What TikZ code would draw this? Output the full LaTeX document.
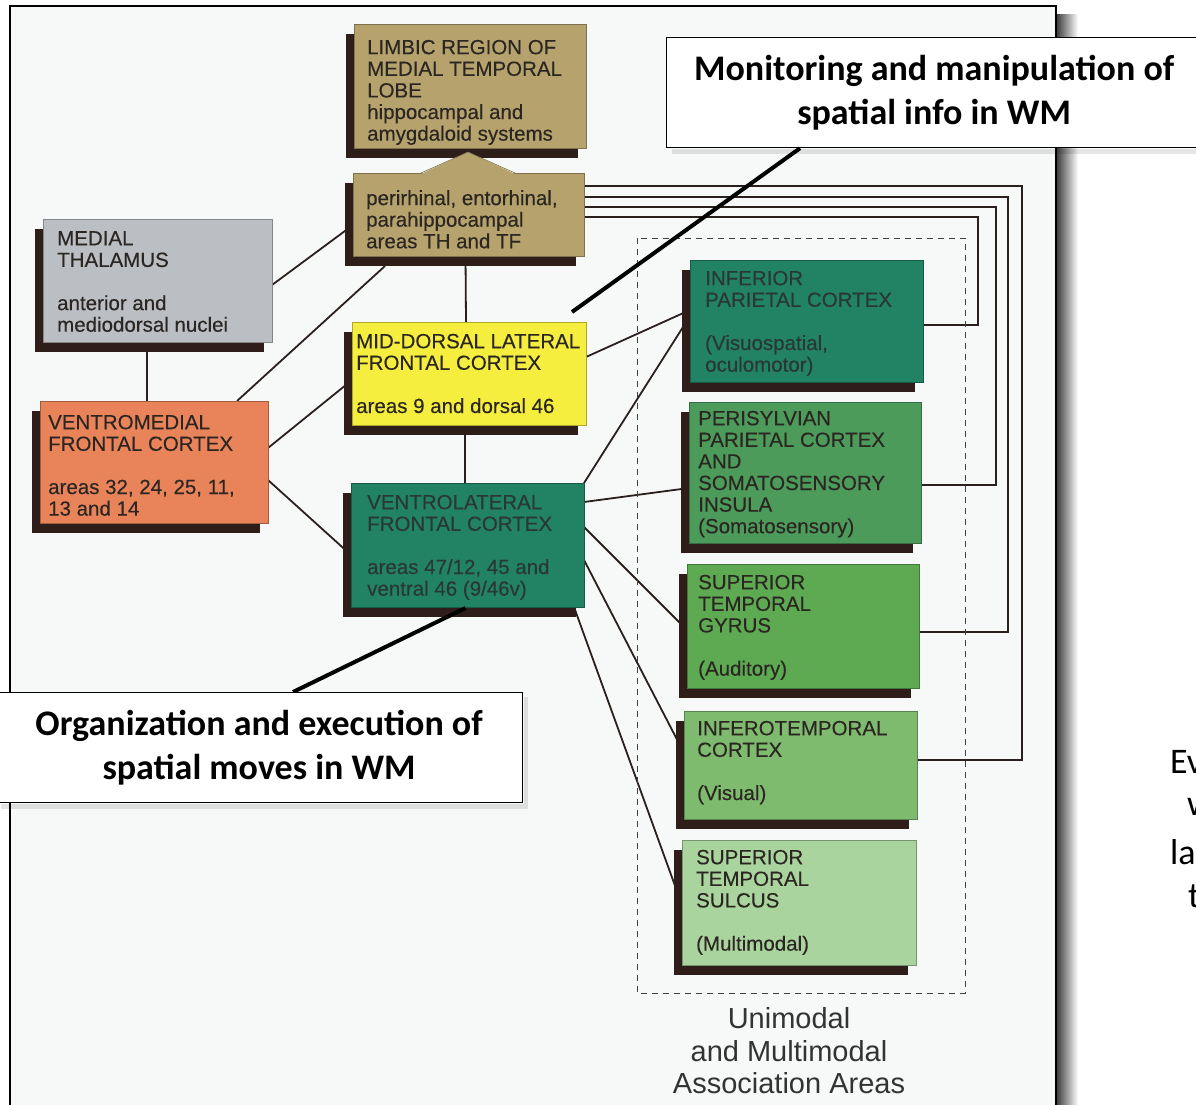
\documentclass[tikz,border=0pt]{standalone}
\usepackage{fontspec}
\setmainfont{Liberation Sans}
\newfontfamily\boxfont{Liberation Sans}[FakeBold=0.25]
\newfontfamily\calfont{Carlito}
\usetikzlibrary{calc}
\pgfdeclarelayer{bg}
\pgfdeclarelayer{lines}
\pgfsetlayers{bg,lines,main}
\definecolor{shadowc}{HTML}{2E1D18}
\definecolor{tanc}{HTML}{B5A26C}
\definecolor{grayc}{HTML}{BBBEC3}
\definecolor{yelc}{HTML}{F6EE3E}
\definecolor{orac}{HTML}{E9845A}
\definecolor{tealc}{HTML}{218264}
\definecolor{grnA}{HTML}{4C9B5B}
\definecolor{grnB}{HTML}{5DAA53}
\definecolor{grnC}{HTML}{7FBB6E}
\definecolor{grnD}{HTML}{AAD49D}
\definecolor{linec}{HTML}{2A201D}
\definecolor{panelc}{HTML}{F7F9F8}
\definecolor{txtc}{HTML}{2B2622}
\definecolor{tealtxt}{HTML}{2A3833}
\newcommand\myareabox[6]{%
  \fill[shadowc] ({#3-8},{#4+10}) rectangle ({#3+#5-8},{#4+#6+10});
  \node[areabox, fill=#2, draw=#2!70!black, minimum width=#5pt, minimum height=#6pt] (#1) at (#3,#4) {};
}
\begin{document}
\begin{tikzpicture}[x=1pt,y=-1pt,
  areabox/.style={rectangle, anchor=north west, inner sep=0pt, outer sep=0pt, line width=0.6pt},
  boxtxt/.style={anchor=north west, inner sep=0pt, align=left, text=txtc, font=\boxfont\fontsize{20.5}{21.6}\selectfont},
  conn/.style={draw=linec, line width=1.8pt},
  dashbox/.style={draw=black!75, line width=0.9pt, dash pattern=on 6pt off 5pt},
  pointer/.style={draw=black, line width=4pt},
  callout/.style={rectangle, draw=black, line width=1.2pt, fill=white, anchor=north west, inner sep=0pt, align=center, font=\calfont\bfseries\fontsize{36}{44}\selectfont},
  assoc/.style={anchor=north, inner sep=0pt, align=center, text=black!80, font=\fontsize{29}{32.5}\selectfont},
  edgetxt/.style={anchor=west, inner sep=0pt, font=\calfont\fontsize{36}{44}\selectfont}
]
\useasboundingbox (0,0) rectangle (1196,1104);
\begin{pgfonlayer}{bg}
\fill[white] (0,0) rectangle (1196,1104);
\shade[left color=black!78, right color=white] (1056,14) rectangle (1078,1104);
\fill[panelc] (10,6) rectangle (1056,1110);
\draw[line width=2pt] (10,1110) -- (10,6) -- (1056,6) -- (1056,1110);
\end{pgfonlayer}

% boxes
\myareabox{limbic}{tanc}{354}{24}{232}{124}
\myareabox{peri}{tanc}{353}{173}{231}{83}
\myareabox{thal}{grayc}{43}{219}{229}{123}
\myareabox{md}{yelc}{352}{322}{234}{103}
\myareabox{vm}{orac}{40}{401}{228}{122}
\myareabox{vl}{tealc}{351}{483}{233}{124}
\myareabox{ip}{tealc}{690}{260}{233}{122}
\myareabox{psv}{grnA}{689}{402}{232}{141}
\myareabox{stg}{grnB}{687}{564}{232}{124}
\myareabox{it}{grnC}{684}{711}{233}{108}
\myareabox{sts}{grnD}{682}{840}{234}{125}
% roof joining limbic region and perirhinal box
\fill[tanc] (421,174) -- (468,152) -- (515,174) -- cycle;
\draw[tanc!70!black, line width=0.6pt] (421,173) -- (468,152) -- (515,173);

% connectors
\begin{pgfonlayer}{lines}
\draw[conn] ($(thal.north east)+(0,66)$) -- ($(peri.north west)+(0,52)$);
\draw[conn] ($(thal.south west)+(104,0)$) -- ($(vm.north west)+(107,0)$);
\draw[conn] ($(vm.north west)+(197,0)$) -- ($(peri.south west)+(32,10)$);
\draw[conn] ($(vm.north east)+(0,47)$) -- ($(md.north west)+(0,58)$);
\draw[conn] ($(vm.north east)+(0,79)$) -- ($(vl.north west)+(0,72)$);
\draw[conn] ($(peri.south)+(-3,0)$) -- ($(md.north)+(-3,0)$);
\draw[conn] ($(md.south)+(-4,0)$) -- ($(vl.north)+(-2.5,0)$);
\draw[conn] ($(md.north east)+(0,35)$) -- ($(ip.north west)+(0,50)$);
\draw[conn] (vl.north east) -- ($(ip.north west)+(0,56)$);
\draw[conn] ($(vl.north east)+(0,19)$) -- ($(psv.north west)+(0,86)$);
\draw[conn] ($(vl.north east)+(0,44)$) -- ($(stg.north west)+(0,66)$);
\draw[conn] ($(vl.north east)+(0,77)$) -- ($(it.north west)+(0,42)$);
\draw[conn] ($(vl.south east)+(-10,0)$) -- ($(sts.north west)+(0,65)$);
\draw[conn] ($(peri.north east)+(0,44)$) -| ($(ip.north east)+(55,65)$) -- ($(ip.north east)+(0,65)$);
\draw[conn] ($(peri.north east)+(0,34)$) -| ($(psv.north east)+(75,83)$) -- ($(psv.north east)+(0,83)$);
\draw[conn] ($(peri.north east)+(0,24)$) -| ($(stg.north east)+(89,68)$) -- ($(stg.north east)+(0,68)$);
\draw[conn] ($(peri.north east)+(0,13)$) -| ($(it.north east)+(105,49)$) -- ($(it.north east)+(0,49)$);
\draw[dashbox] (637,238) rectangle (965,993);
\end{pgfonlayer}

% box texts
\node[boxtxt] (limbic-t) at ($(limbic.north west)+(13,15.7)$) {LIMBIC REGION OF\\MEDIAL TEMPORAL\\LOBE\\hippocampal and\\amygdaloid systems};
\node[boxtxt] (peri-t) at ($(peri.north west)+(13,17)$) {perirhinal, entorhinal,\\parahippocampal\\areas TH and TF};
\node[boxtxt] (thal-t) at ($(thal.north west)+(14,12)$) {MEDIAL\\THALAMUS\\[21.6pt]anterior and\\mediodorsal nuclei};
\node[boxtxt] (md-t) at ($(md.north west)+(4,11.7)$) {MID-DORSAL LATERAL\\FRONTAL CORTEX\\[21.6pt]areas 9 and dorsal 46};
\node[boxtxt] (vm-t) at ($(vm.north west)+(8,13.7)$) {VENTROMEDIAL\\FRONTAL CORTEX\\[21.6pt]areas 32, 24, 25, 11,\\13 and 14};
\node[boxtxt, text=tealtxt] (vl-t) at ($(vl.north west)+(16,11.7)$) {VENTROLATERAL\\FRONTAL CORTEX\\[21.6pt]areas 47/12, 45 and\\ventral 46 (9/46v)};
\node[boxtxt, text=tealtxt] (ip-t) at ($(ip.north west)+(15,10.7)$) {INFERIOR\\PARIETAL CORTEX\\[21.6pt](Visuospatial,\\oculomotor)};
\node[boxtxt] (psv-t) at ($(psv.north west)+(9,8.7)$) {PERISYLVIAN\\PARIETAL CORTEX\\AND\\SOMATOSENSORY\\INSULA\\(Somatosensory)};
\node[boxtxt] (stg-t) at ($(stg.north west)+(11,10.7)$) {SUPERIOR\\TEMPORAL\\GYRUS\\[21.6pt](Auditory)};
\node[boxtxt] (it-t) at ($(it.north west)+(13,9.7)$) {INFEROTEMPORAL\\CORTEX\\[21.6pt](Visual)};
\node[boxtxt] (sts-t) at ($(sts.north west)+(14,9.7)$) {SUPERIOR\\TEMPORAL\\SULCUS\\[21.6pt](Multimodal)};

\node[assoc] (assoc) at (789,1007.5) {Unimodal\\and Multimodal\\Association Areas};

% callouts
\draw[pointer] ($(vl.south)+(-2,1)$) -- (293,692);
\node[callout, minimum width=527pt, minimum height=110pt] (cal2) at (-5,692) {Organization and execution of\\spatial moves in WM};
\fill[black, opacity=0.10] ($(cal2.south west)+(6,1)$) rectangle ($(cal2.south east)+(5,6)$);
\fill[black, opacity=0.10] ($(cal2.north east)+(1,5)$) rectangle ($(cal2.south east)+(5,1)$);
\node[callout, minimum width=535pt, minimum height=110pt] (cal1) at (666,37) {Monitoring and manipulation of\\spatial info in WM};
\fill[black, opacity=0.10] ($(cal1.south west)+(6,1)$) rectangle ($(cal1.south east)+(0,6)$);
\draw[pointer] ($(cal1.south west)+(134,0)$) -- ($(md.north east)+(-14,-10)$);

% text cut off at the right edge
\begin{scope}
\clip (1080,0) rectangle (1196,1104);
\node[edgetxt] (ev) at (1170,762) {Ev};
\node[edgetxt] (w) at (1187,807) {w};
\node[edgetxt] (la) at (1170,852) {la};
\node[edgetxt] (t) at (1188,896) {t};
\end{scope}
\end{tikzpicture}
\end{document}
